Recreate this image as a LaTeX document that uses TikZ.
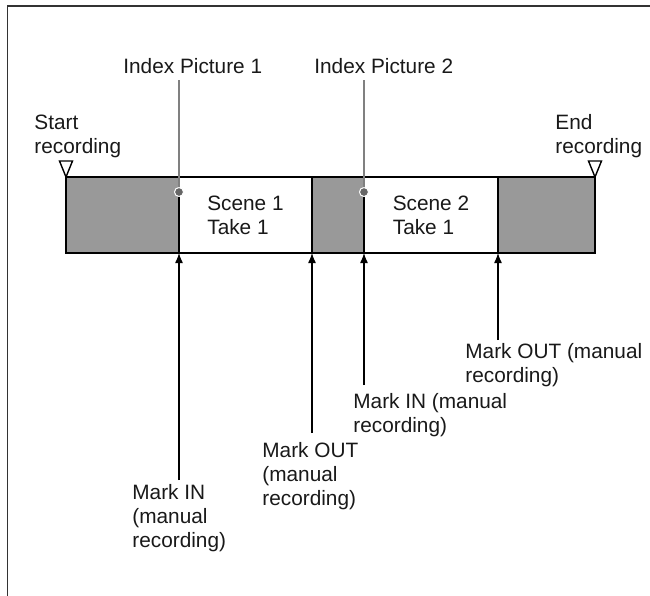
\documentclass[tikz,border=0pt]{standalone}
\usepackage{fontspec}
\setmainfont{Liberation Sans}
\usetikzlibrary{positioning,arrows.meta}

\begin{document}
\begin{tikzpicture}[x=0.5pt,y=-0.5pt]
    \tikzset{every node/.style={font=\fontsize{10.4}{12}\selectfont,text=black!90}}
    \tikzset{lbl/.style={anchor=base west,align=left,inner sep=0pt}}
    \tikzset{seg/.style={draw=black,line width=1.2pt,minimum height=38pt,inner sep=0pt,outer sep=0pt,align=left}}
    \tikzset{tape/.style={seg,fill=black!40}}
    \tikzset{take/.style={seg,fill=white}}
    \tikzset{markarrow/.style={-{Latex[length=5pt,width=4pt]},line width=0.65pt,black}}
    \tikzset{idxline/.style={line width=1pt,black!50}}
    \tikzset{idxdot/.style={circle,fill=black!60,draw=white,line width=0.5pt,minimum size=4.5pt,inner sep=0pt}}
    \tikzset{recmark/.style={draw=black,fill=white,line width=0.7pt,line join=miter}}
    \useasboundingbox (0,0) rectangle (650,596);
    \draw[black!80,line width=0.75pt] (650,6) -- (7.5,6) -- (7.5,596);
    % the tape
    \node[tape,minimum width=56.5pt,anchor=north west] (s1) at (66,177) {};
    \node[take,minimum width=66.5pt,right=0pt of s1] (s2) {Scene 1\\Take 1};
    \node[tape,minimum width=26pt,right=0pt of s2] (s3) {};
    \node[take,minimum width=67pt,right=0pt of s3] (s4) {Scene 2\\Take 1};
    \node[tape,minimum width=48.5pt,right=0pt of s4] (s5) {};
    % start and end of recording
    \draw[recmark] (s1.north west) -- ++(-6.5,-16) -- ++(13,0) -- cycle;
    \draw[recmark] (s5.north east) -- ++(-6.5,-16) -- ++(13,0) -- cycle;
    \node[lbl] (start) at (34,153) {Start\\recording};
    \node[lbl] (end) at (555,153) {End\\recording};
    % index pictures
    \node[lbl] (idx1) at (123,73) {Index Picture 1};
    \node[lbl] (idx2) at (314,73) {Index Picture 2};
    \coordinate (i1) at (179,80);
    \coordinate (i2) at (364,80);
    \node[idxdot] (d1) at ([yshift=-7.5pt]s2.north west) {};
    \node[idxdot] (d2) at ([yshift=-7.5pt]s4.north west) {};
    \draw[idxline] (i1) -- (d1);
    \draw[idxline] (i2) -- (d2);
    % marks
    \coordinate (m1) at (179,480);
    \coordinate (m2) at (312,433);
    \coordinate (m3) at (364,385);
    \coordinate (m4) at (498,340);
    \draw[markarrow] (m1) -- (s2.south west);
    \draw[markarrow] (m2) -- (s3.south west);
    \draw[markarrow] (m3) -- (s4.south west);
    \draw[markarrow] (m4) -- (s5.south west);
    \node[lbl] (in1) at (132,547) {Mark IN\\(manual\\recording)};
    \node[lbl] (out1) at (262,505) {Mark OUT\\(manual\\recording)};
    \node[lbl] (in2) at (353,432) {Mark IN (manual\\recording)};
    \node[lbl] (out2) at (465,382) {Mark OUT (manual\\recording)};
\end{tikzpicture}
\end{document}
